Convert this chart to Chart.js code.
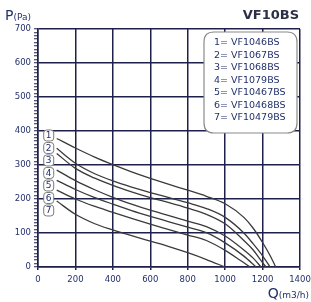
<!DOCTYPE html>
<html><head><meta charset="utf-8">
<script src="https://cdn.jsdelivr.net/npm/chart.js@4/dist/chart.umd.min.js"></script>
<style>html,body{margin:0;padding:0;background:#fff}#wrap{width:311px;height:302px;position:relative}</style>
</head><body><div id="wrap"><canvas id="c" width="311" height="302"></canvas></div>
<script>
const chartTitle = 'VF10BS';
const yTitle = ['P', '(Pa)'];
const xTitle = ['Q', '(m3/h)'];
const curveIds = ['1','2','3','4','5','6','7'];
const models = ['VF1046BS','VF1067BS','VF1068BS','VF1079BS','VF10467BS','VF10468BS','VF10479BS'];
const xTicks = [0,200,400,600,800,1000,1200,1400];
const yTicks = [0,100,200,300,400,500,600,700];

const q1 = [100,200,300,400,500,600,700,800,900,1000,1100,1150,1200,1240,1270];
const p1 = [378,350,324,301,280,261,243,226,208,186,146,114,72,34,0];
const q2 = [100,200,300,400,500,600,700,800,900,1000,1100,1150,1200,1240];
const p2 = [349,305,275,253,235,219,204,189,172,146,100,68,33,0];
const q3 = [100,200,300,400,500,600,700,800,900,1000,1100,1150,1190,1218];
const p3 = [334,290,262,240,221,204,189,173,155,127,78,50,20,0];
const q4 = [100,200,300,400,500,600,700,800,900,1000,1100,1150,1192];
const p4 = [285,254,228,205,185,167,151,135,119,91,50,26,0];
const q5 = [100,200,300,400,500,600,700,800,900,1000,1100,1165];
const p5 = [255,228,205,185,166,149,133,117,101,71,32,0];
const q6 = [100,200,300,400,500,600,700,800,900,1000,1080,1133];
const p6 = [226,200,179,161,143,126,110,94,78,49,20,0];
const q7 = [100,200,300,400,500,600,700,800,900,1000];
const p7 = [194,155,128,109,92,76,60,42,22,0];

const allQ = [q1,q2,q3,q4,q5,q6,q7];
const allP = [p1,p2,p3,p4,p5,p6,p7];

const NAVY = '#1e1f4a';
const TXT = '#23306b';

const datasets = allQ.map((qs, i) => ({
  label: curveIds[i] + '= ' + models[i],
  data: qs.map((q, j) => ({x: q, y: allP[i][j]})),
  borderColor: '#3a3a3a',
  borderWidth: 1.3,
  pointRadius: 0,
  fill: false,
  cubicInterpolationMode: 'monotone'
}));

function roundRect(ctx, x, y, w, h, r) {
  ctx.beginPath();
  ctx.moveTo(x + r, y);
  ctx.lineTo(x + w - r, y);
  ctx.quadraticCurveTo(x + w, y, x + w, y + r);
  ctx.lineTo(x + w, y + h - r);
  ctx.quadraticCurveTo(x + w, y + h, x + w - r, y + h);
  ctx.lineTo(x + r, y + h);
  ctx.quadraticCurveTo(x, y + h, x, y + h - r);
  ctx.lineTo(x, y + r);
  ctx.quadraticCurveTo(x, y, x + r, y);
  ctx.closePath();
}

const decor = {
  id: 'decor',
  afterDraw(chart) {
    const ctx = chart.ctx, a = chart.chartArea;
    const xs = chart.scales.x, ys = chart.scales.y;
    ctx.save();
    // title
    ctx.fillStyle = '#2a2f45';
    ctx.font = 'bold 13px "DejaVu Sans"';
    ctx.textAlign = 'right';
    ctx.textBaseline = 'middle';
    ctx.fillText(chartTitle, a.right - 1, 16);
    // y title
    ctx.textAlign = 'left';
    ctx.textBaseline = 'alphabetic';
    ctx.fillStyle = TXT;
    ctx.font = '14px "DejaVu Sans"';
    ctx.fillText(yTitle[0], 5, 20);
    const pw = ctx.measureText(yTitle[0]).width;
    ctx.font = '9px "DejaVu Sans"';
    ctx.fillText(yTitle[1], 5 + pw, 20);
    // x title
    ctx.font = '9px "DejaVu Sans"';
    const uw = ctx.measureText(xTitle[1]).width;
    ctx.textAlign = 'right';
    ctx.fillText(xTitle[1], 309, 298);
    ctx.font = '14px "DejaVu Sans"';
    ctx.fillText(xTitle[0], 309 - uw, 298);
    // legend box
    const bx = a.right - 96, by = a.top + 3, bw = 93, bh = 101;
    roundRect(ctx, bx, by, bw, bh, 10);
    ctx.fillStyle = '#fff';
    ctx.fill();
    ctx.strokeStyle = '#8a8a8a';
    ctx.lineWidth = 1.2;
    ctx.stroke();
    ctx.fillStyle = TXT;
    ctx.font = '9.5px "DejaVu Sans"';
    ctx.textAlign = 'left';
    ctx.textBaseline = 'middle';
    datasets.forEach((d, i) => {
      ctx.fillText(d.label, bx + 10, by + 11 + i * 12.5);
    });
    // curve number labels
    const y0 = ys.getPixelForValue(allP[0][0]) - 3;
    allQ.forEach((qs, i) => {
      const cx = xs.getPixelForValue(qs[0]) - 8;
      const cy = y0 + i * 12.5;
      roundRect(ctx, cx - 5, cy - 5.5, 10, 11, 3);
      ctx.fillStyle = '#fff';
      ctx.fill();
      ctx.strokeStyle = '#7a7a7a';
      ctx.lineWidth = 1;
      ctx.stroke();
      ctx.fillStyle = TXT;
      ctx.font = '9px "DejaVu Sans"';
      ctx.textAlign = 'center';
      ctx.textBaseline = 'middle';
      ctx.fillText(curveIds[i], cx, cy + 0.5);
    });
    ctx.restore();
  }
};

new Chart(document.getElementById('c'), {
  type: 'line',
  data: { datasets },
  options: {
    responsive: false,
    animation: false,
    devicePixelRatio: 1,
    layout: { padding: { top: 29, right: 1, left: 0, bottom: 0 } },
    plugins: { legend: { display: false }, tooltip: { enabled: false } },
    scales: {
      x: {
        type: 'linear', min: 0, max: 1400,
        afterBuildTicks: s => { s.ticks = xTicks.map(v => ({value: v})); },
        afterFit: s => { s.height = 35; s.paddingRight = 11; s.paddingLeft = 0; },
        ticks: { color: TXT, font: { family: 'DejaVu Sans', size: 8.5 }, padding: 5, maxRotation: 0,
          callback: v => String(v) },
        grid: { color: NAVY, lineWidth: 1.5, tickLength: 3 },
        border: { color: NAVY, width: 1.5 }
      },
      y: {
        type: 'linear', min: 0, max: 700,
        afterBuildTicks: s => {
          const t = [];
          for (let v = 0; v <= 700; v += 10) t.push({value: v});
          s.ticks = t;
        },
        afterFit: s => { s.width = 38; },
        ticks: {
          autoSkip: false, color: TXT, font: { family: 'DejaVu Sans', size: 8.5 }, padding: 3,
          callback: v => yTicks.includes(v) ? String(v) : ''
        },
        grid: {
          color: c => (c.tick && yTicks.includes(c.tick.value)) ? NAVY : 'rgba(0,0,0,0)',
          tickColor: NAVY, lineWidth: 1.5, tickWidth: 1, tickLength: 4
        },
        border: { color: NAVY, width: 1.5 }
      }
    }
  },
  plugins: [decor]
});
</script></body></html>
